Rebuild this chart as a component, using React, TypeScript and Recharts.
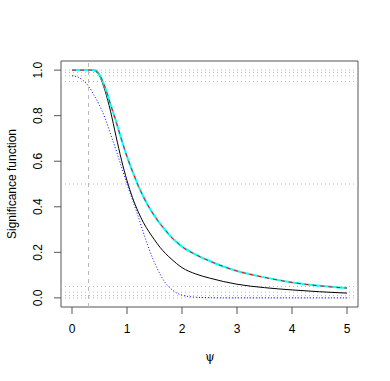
import { LineChart, Line, XAxis, YAxis, ReferenceLine, ReferenceArea } from "recharts";

// psi grid
const psi = [
  0, 0.1, 0.2, 0.3, 0.4, 0.5, 0.6, 0.7, 0.8, 0.9, 1.0, 1.1, 1.2, 1.3, 1.4, 1.5, 1.6, 1.7, 1.8, 1.9, 2.0,
  2.25, 2.5, 2.75, 3.0, 3.5, 4.0, 4.5, 5.0,
];

const blackSig = [
  1, 1, 1, 1, 0.998, 0.975, 0.91, 0.82, 0.71, 0.605, 0.515, 0.44, 0.38, 0.33, 0.29, 0.255, 0.222, 0.195,
  0.172, 0.151, 0.133, 0.105, 0.087, 0.072, 0.06, 0.045, 0.035, 0.027, 0.021,
];

const blueSig = [
  0.975, 0.97, 0.955, 0.93, 0.89, 0.845, 0.79, 0.72, 0.65, 0.575, 0.5, 0.43, 0.36, 0.285, 0.215, 0.155,
  0.105, 0.065, 0.04, 0.022, 0.012, 0.003, 0.001, 0, 0, 0, 0, 0, 0,
];

const cyanSig = [
  1, 1, 1, 1, 1, 0.98, 0.925, 0.85, 0.775, 0.695, 0.62, 0.555, 0.495, 0.443, 0.398, 0.36, 0.326, 0.296,
  0.268, 0.245, 0.225, 0.19, 0.162, 0.138, 0.118, 0.09, 0.068, 0.053, 0.043,
];

const levels = [0, 0.01, 0.025, 0.05, 0.5, 0.95, 0.975, 0.99, 1];
const psiMark = 0.3;

const xTicks = [0, 1, 2, 3, 4, 5];
const yTicks = [0, 0.2, 0.4, 0.6, 0.8, 1.0];

const rows = psi.map((p, i) => ({ psi: p, black: blackSig[i], blue: blueSig[i], cyan: cyanSig[i] }));

const font = "'Liberation Sans', Arial, sans-serif";
const axisGrey = "#555";

function YTick(props: any) {
  const { x, y, payload } = props;
  const cx = x - 8;
  return (
    <text
      x={cx}
      y={y}
      transform={`rotate(-90 ${cx} ${y})`}
      textAnchor="middle"
      dominantBaseline="central"
      fontSize={12}
      fontFamily={font}
      fill="#000"
    >
      {payload.value.toFixed(1)}
    </text>
  );
}

export default function App() {
  return (
    <div style={{ position: "absolute", left: 0, top: 0, width: 390, height: 381, background: "#fff" }}>
      <LineChart
        width={390}
        height={381}
        data={rows}
        margin={{ top: 61, right: 32, bottom: 0, left: 0 }}
      >
        <XAxis
          dataKey="psi"
          type="number"
          domain={[-0.2, 5.2]}
          ticks={xTicks}
          height={74}
          axisLine={false}
          tickLine={{ stroke: axisGrey }}
          tickSize={7}
          tickMargin={10}
          tick={{ fill: "#000", fontSize: 12, fontFamily: font }}
        />
        <YAxis
          type="number"
          domain={[-0.04, 1.04]}
          ticks={yTicks}
          width={61}
          axisLine={false}
          tickLine={{ stroke: axisGrey }}
          tickSize={7}
          tickMargin={8}
          tick={<YTick />}
        />
        <ReferenceArea
          x1={-0.2}
          x2={5.2}
          y1={-0.04}
          y2={1.04}
          fill="none"
          stroke={axisGrey}
          strokeWidth={1}
        />
        {levels.map((l) => (
          <ReferenceLine key={l} y={l} stroke="#bbb" strokeDasharray="1 3" />
        ))}
        <ReferenceLine x={psiMark} stroke="#bbb" strokeDasharray="4 4" />
        <Line dataKey="black" type="monotone" stroke="#000" strokeWidth={1} dot={false} isAnimationActive={false} />
        <Line
          dataKey="blue"
          type="monotone"
          stroke="#0000ff"
          strokeWidth={1}
          strokeDasharray="1 2"
          dot={false}
          isAnimationActive={false}
        />
        <Line dataKey="cyan" type="monotone" stroke="#00ffff" strokeWidth={2} dot={false} isAnimationActive={false} />
        <Line
          dataKey="cyan"
          type="monotone"
          stroke="#ff0000"
          strokeWidth={1}
          strokeDasharray="4 4"
          dot={false}
          isAnimationActive={false}
        />
      </LineChart>
      <div
        style={{
          position: "absolute",
          left: 12,
          top: 184,
          transform: "translate(-50%, -50%) rotate(-90deg)",
          fontFamily: font,
          fontSize: 12,
          whiteSpace: "nowrap",
        }}
      >
        Significance function
      </div>
      <div
        style={{
          position: "absolute",
          left: 210,
          top: 357,
          transform: "translate(-50%, -50%)",
          fontFamily: "'DejaVu Serif', serif",
          fontSize: 12,
        }}
      >
        ψ
      </div>
    </div>
  );
}
